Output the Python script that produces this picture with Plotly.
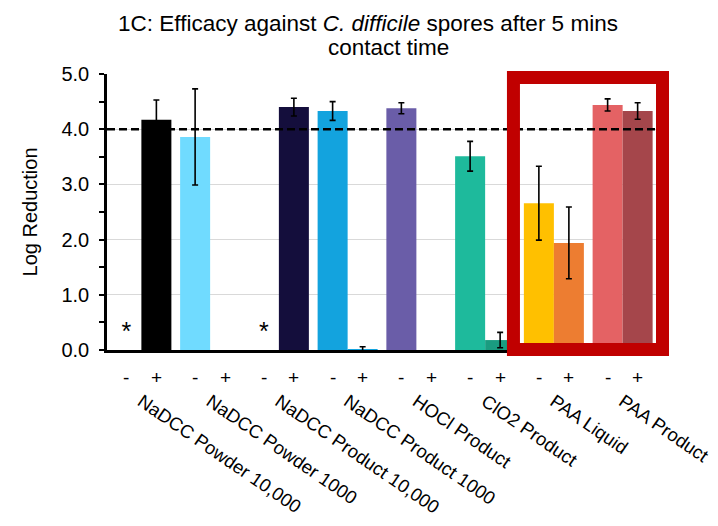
import plotly.graph_objects as go

# Treatment groups shown along the x axis
groups = [
    "NaDCC Powder 10,000",
    "NaDCC Powder 1000",
    "NaDCC Product 10,000",
    "NaDCC Product 1000",
    "HOCl Product",
    "ClO2 Product",
    "PAA Liquid",
    "PAA Product",
]

# Log reduction without (-) and with (+) organic load; None = not tested / no bar
minus_vals = [None, 3.86, None, 4.33, 4.38, 3.51, 2.66, 4.44]
minus_err = [0, 0.87, 0, 0.17, 0.10, 0.27, 0.67, 0.11]
plus_vals = [4.17, None, 4.40, 0.01, None, 0.18, 1.94, 4.33]
plus_err = [0.36, 0, 0.16, 0.05, 0, 0.14, 0.65, 0.15]

minus_colors = ["#000000", "#70DBFF", "#140E3C", "#13A3DE",
                "#6A5DA8", "#1EBA9C", "#FFC000", "#E46264"]
plus_colors = ["#000000", "#70DBFF", "#140E3C", "#13A3DE",
               "#6A5DA8", "#1A9C80", "#ED7D31", "#A5464B"]

# Groups where the "-" condition is marked with an asterisk
star_groups = [0, 2]
star_height = 0.30

threshold = 4.0
sign_labels = ["-", "+"]

title_line1 = "1C: Efficacy against <i>C. difficile</i> spores after 5 mins"
title_line2 = "contact time"

FONT = "Liberation Sans, Arial, sans-serif"
n = len(groups)
centers = [i + 0.5 for i in range(n)]
bargap = 0.127
half_bar = (1 - bargap) / 4  # offset of each bar centre from the group centre

err_style = dict(type="data", thickness=1.6, width=3, color="#000000")

fig = go.Figure()
fig.add_trace(go.Bar(
    x=centers, y=minus_vals, marker=dict(color=minus_colors, line=dict(width=0)),
    error_y=dict(array=minus_err, **err_style), showlegend=False,
))
fig.add_trace(go.Bar(
    x=centers, y=plus_vals, marker=dict(color=plus_colors, line=dict(width=0)),
    error_y=dict(array=plus_err, **err_style), showlegend=False,
))

# asterisks for the untested "-" conditions
fig.add_trace(go.Scatter(
    x=[centers[g] - half_bar for g in star_groups],
    y=[star_height] * len(star_groups),
    mode="text", text=["*"] * len(star_groups),
    textfont=dict(family=FONT, size=25, color="#000000"),
    showlegend=False, hoverinfo="skip",
))

# 4-log reduction threshold
fig.add_shape(type="line", xref="x domain", x0=0, x1=1, yref="y",
              y0=threshold, y1=threshold,
              line=dict(color="#000000", width=2.5, dash="8px,4px"))

# "-" / "+" labels under each bar
annotations = []
for c in centers:
    for k, s in enumerate(sign_labels):
        annotations.append(dict(
            x=c + (-half_bar if k == 0 else half_bar), xref="x",
            y=0, yref="paper", yanchor="middle", yshift=-27,
            text=s, showarrow=False,
            font=dict(family=FONT, size=19, color="#000000"),
        ))

# second line of the title, set a little tighter than a <br> would give
annotations.append(dict(
    x=368 / 718, xref="paper", xanchor="center",
    y=1, yref="paper", yanchor="middle", yshift=(350 - 47) - 276,
    text=title_line2, showarrow=False,
    font=dict(family=FONT, size=22.5, color="#000000"),
))

# highlight box around the PAA groups
fig.add_shape(type="rect", xref="paper", yref="paper",
              x0=0.739, x1=1.010, y0=0.002, y1=0.987,
              line=dict(color="#C00000", width=13),
              fillcolor="rgba(0,0,0,0)", layer="above")

fig.update_layout(
    width=718, height=526,
    margin=dict(l=107, r=61, t=74, b=176, autoexpand=False),
    paper_bgcolor="#FFFFFF", plot_bgcolor="#FFFFFF",
    barmode="group", bargap=bargap, bargroupgap=0,
    font=dict(family=FONT, size=20, color="#000000"),
    title=dict(
        text=title_line1,
        x=368 / 718, xref="container", xanchor="center",
        y=1 - 23 / 526, yref="container", yanchor="middle",
        font=dict(family=FONT, size=22.5, color="#000000"),
    ),
    annotations=annotations,
    showlegend=False,
)

fig.update_xaxes(
    range=[0, n], tickmode="array", tickvals=centers, ticktext=groups,
    tickangle=34.5, ticks="", showgrid=False, zeroline=False,
    showline=True, linecolor="#000000", linewidth=2.5,
    ticklabelstandoff=31, automargin=False,
    tickfont=dict(family=FONT, size=18.5, color="#000000"),
)
fig.update_yaxes(
    range=[0, 5], dtick=1, tick0=0, tickformat=".1f",
    showgrid=True, gridcolor="#D9D9D9", gridwidth=1.3, zeroline=False,
    showline=True, linecolor="#000000", linewidth=2.5,
    ticks="outside", ticklen=5, tickwidth=2, tickcolor="#000000",
    minor=dict(dtick=0.5, ticks="outside", ticklen=5, tickwidth=2,
               tickcolor="#000000", showgrid=False),
    ticklabelstandoff=6, automargin=False,
    tickfont=dict(family=FONT, size=20, color="#000000"),
    title=dict(text="Log Reduction", standoff=19,
               font=dict(family=FONT, size=20, color="#000000")),
)

fig.write_html("out.html")
